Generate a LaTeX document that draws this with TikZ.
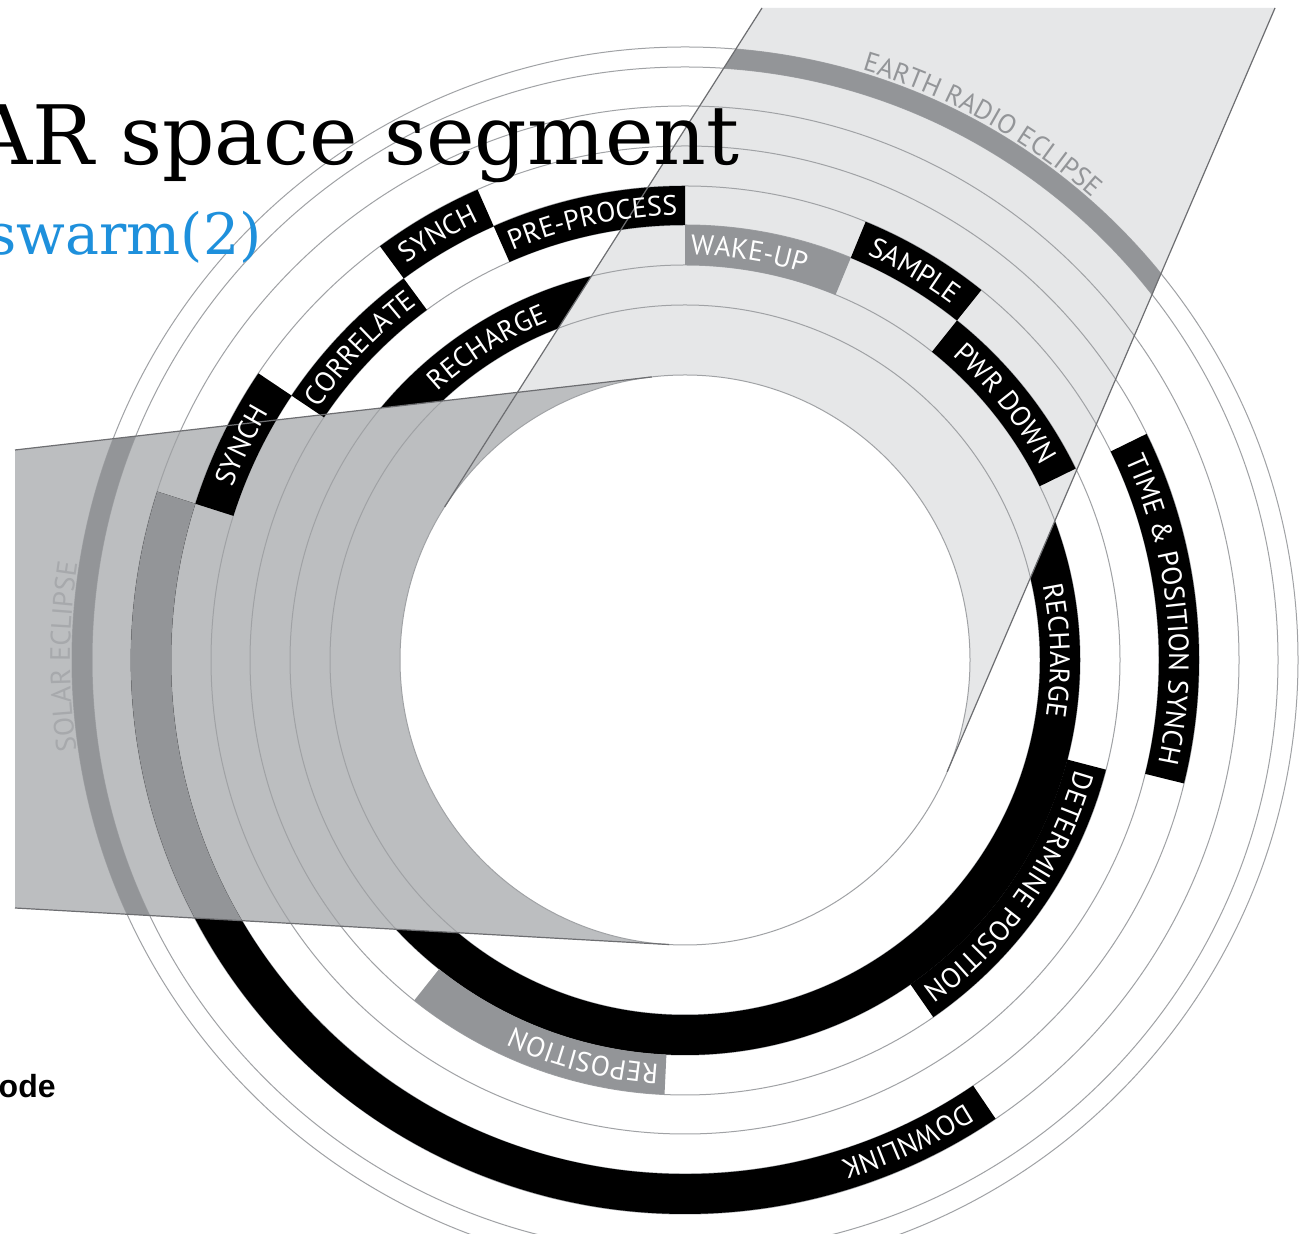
\documentclass[tikz,border=0pt]{standalone}
\usepackage{fontspec}
\usetikzlibrary{decorations.text}
\newfontfamily\titlefont{DejaVu Serif}
\newfontfamily\labelfont{PT Sans}
\newfontfamily\notefont{Liberation Sans}
\definecolor{earthgray}{HTML}{E6E7E8}
\definecolor{solargray}{HTML}{BCBEC0}
\definecolor{phasegray}{HTML}{939598}
\definecolor{labelgray}{HTML}{A7A9AC}
\definecolor{ringline}{HTML}{A0A2A5}
\definecolor{edgeline}{HTML}{6D6E71}
\definecolor{titleblue}{RGB}{30,144,220}
\newcommand{\seglabel}{\labelfont\fontsize{14bp}{14bp}\selectfont\color{white}}
\newcommand{\earthlabel}{\labelfont\fontsize{13.5bp}{13.5bp}\selectfont\color{phasegray}}
\newcommand{\solarlabel}{\labelfont\fontsize{14bp}{14bp}\selectfont\color{labelgray}}
\tikzset{
  orbit/.style={draw=ringline,line width=0.5bp},
  shadowedge/.style={draw=edgeline,line width=0.6bp},
  arclabel/.style={decorate,decoration={text along path,text align=center,text={#1}}},
  arclabelstart/.style={decorate,decoration={text along path,text align=left,text={#1}}},
}
\begin{document}
\begin{tikzpicture}[line join=bevel,]
%%
\fill[white] (0bp,0bp) rectangle (650.5bp,617bp);
\useasboundingbox (0bp,0bp) rectangle (650.5bp,617bp);
\begin{scope}[shift={(342.5bp,287bp)}]
  \coordinate (earth_0) at (38.5bp,326bp);
  \coordinate (earth_1) at (295bp,326bp);
  \coordinate (earth_2) at (-23.1:142.5bp);
  \coordinate (earth_3) at (147.5:142.5bp);
  \coordinate (solar_0) at (-335bp,105bp);
  \coordinate (solar_1) at (96.7:142.5bp);
  \coordinate (solar_2) at (266.8:142.5bp);
  \coordinate (solar_3) at (-335bp,-124bp);
% shadows
  \fill[earthgray] (earth_0) -- (earth_1) -- (earth_2) -- (earth_3) -- cycle;
  \fill[solargray] (solar_0) -- (solar_1) -- (solar_2) -- (solar_3) -- cycle;
  \fill[white] (0bp,0bp) circle (142.5bp);
% orbit tracks
  \draw[orbit] (0bp,0bp) circle (142.5bp);
  \draw[orbit] (0bp,0bp) circle (177.5bp);
  \draw[orbit] (0bp,0bp) circle (197.5bp);
  \draw[orbit] (0bp,0bp) circle (217.5bp);
  \draw[orbit] (0bp,0bp) circle (237bp);
  \draw[orbit] (0bp,0bp) circle (257bp);
  \draw[orbit] (0bp,0bp) circle (277bp);
  \draw[orbit] (0bp,0bp) circle (296.5bp);
  \draw[orbit] (0bp,0bp) circle (306.5bp);
% recharge track, off wherever a shadow falls
  \begin{scope}[even odd rule]
    \clip (-360bp,-300bp) rectangle (320bp,340bp)
      (earth_0) -- (earth_1) -- (earth_2) -- (earth_3) -- cycle
      (solar_0) -- (solar_1) -- (solar_2) -- (solar_3) -- cycle;
    \fill[black] (0bp,0bp) circle (197.5bp) (0bp,0bp) circle (177.5bp);
  \end{scope}
% phases
  \fill[black] (113.8:257bp) arc (113.8:126.4:257bp) -- (126.4:237bp) arc (126.4:113.8:237bp) -- cycle;
  \fill[black] (90:237bp) arc (90:113.8:237bp) -- (113.8:217.5bp) arc (113.8:90:217.5bp) -- cycle;
  \fill[black] (126.4:237bp) arc (126.4:146.1:237bp) -- (146.1:217.5bp) arc (146.1:126.4:217.5bp) -- cycle;
  \fill[black] (146.1:257bp) arc (146.1:162.3:257bp) -- (162.3:237bp) arc (162.3:146.1:237bp) -- cycle;
  \fill[phasegray] (67.6:217.5bp) arc (67.6:90:217.5bp) -- (90:197.5bp) arc (90:67.6:197.5bp) -- cycle;
  \fill[black] (51.3:237bp) arc (51.3:67.6:237bp) -- (67.6:217.5bp) arc (67.6:51.3:217.5bp) -- cycle;
  \fill[black] (26.1:217.5bp) arc (26.1:51.3:217.5bp) -- (51.3:197.5bp) arc (51.3:26.1:197.5bp) -- cycle;
  \fill[black] (-13.9:257bp) arc (-13.9:26.1:257bp) -- (26.1:237bp) arc (26.1:-13.9:237bp) -- cycle;
  \fill[black] (-55.2:217.5bp) arc (-55.2:-14.6:217.5bp) -- (-14.6:197.5bp) arc (-14.6:-55.2:197.5bp) -- cycle;
  \fill[phasegray] (231.5:217.5bp) arc (231.5:267.3:217.5bp) -- (267.3:197.5bp) arc (267.3:231.5:197.5bp) -- cycle;
  \fill[black] (162.3:277bp) arc (162.3:304.1:277bp) -- (304.1:257bp) arc (304.1:162.3:257bp) -- cycle;
% eclipse rings
  \begin{scope}
    \clip (solar_0) -- (solar_1) -- (solar_2) -- (solar_3) -- cycle;
    \fill[phasegray] (162.3:277bp) arc (162.3:304.1:277bp) -- (304.1:257bp) arc (304.1:162.3:257bp) -- cycle;
    \fill[phasegray,even odd rule] (0bp,0bp) circle (306.5bp) (0bp,0bp) circle (296.5bp);
  \end{scope}
  \begin{scope}
    \clip (earth_0) -- (earth_1) -- (earth_2) -- (earth_3) -- cycle;
    \fill[phasegray,even odd rule] (0bp,0bp) circle (306.5bp) (0bp,0bp) circle (296.5bp);
  \end{scope}
  \draw[shadowedge] (earth_0) -- (earth_3);
  \draw[shadowedge] (earth_1) -- (earth_2);
  \draw[shadowedge] (solar_0) -- (solar_1);
  \draw[shadowedge] (solar_3) -- (solar_2);
% labels
  \path[arclabel={|\seglabel|PRE-PROCESS}] (113.8:222.35bp) arc (113.8:90:222.35bp);
  \path[arclabel={|\seglabel|SYNCH}] (126.4:242.1bp) arc (126.4:113.8:242.1bp);
  \path[arclabel={|\seglabel|CORRELATE}] (146.1:222.35bp) arc (146.1:126.4:222.35bp);
  \path[arclabel={|\seglabel|SYNCH}] (162.3:242.1bp) arc (162.3:146.1:242.1bp);
  \path[arclabel={|\seglabel|RECHARGE}] (135:182.6bp) arc (135:109.6:182.6bp);
  \path[arclabelstart={|\seglabel|WAKE-UP}] (89.2:202.6bp) arc (89.2:60:202.6bp);
  \path[arclabel={|\seglabel|SAMPLE}] (67.6:222.35bp) arc (67.6:51.3:222.35bp);
  \path[arclabel={|\seglabel|PWR DOWN}] (51.3:202.6bp) arc (51.3:26.1:202.6bp);
  \path[arclabel={|\seglabel|TIME {\&} POSITION SYNCH}] (26.1:242.1bp) arc (26.1:-13.9:242.1bp);
  \path[arclabel={|\seglabel|RECHARGE}] (20:182.6bp) arc (20:-17:182.6bp);
  \path[arclabel={|\seglabel|DETERMINE POSITION}] (-14.6:202.6bp) arc (-14.6:-55.2:202.6bp);
  \path[arclabelstart={|\seglabel|REPOSITION}] (266.3:202.6bp) arc (266.3:231.5:202.6bp);
  \path[arclabelstart={|\seglabel|DOWNLINK}] (302.3:262.1bp) arc (302.3:250:262.1bp);
  \path[arclabelstart={|\earthlabel|EARTH RADIO ECLIPSE}] (73.3:308bp) arc (73.3:30:308bp);
  \path[arclabel={|\solarlabel|SOLAR ECLIPSE}] (194.7:307.5bp) arc (194.7:164.7:307.5bp);
\end{scope}
%
\node (node_0) at (370bp,534.5bp) [anchor=base east,inner sep=0pt] {\titlefont\fontsize{41bp}{41bp}\selectfont AR space segment};
\node (node_1) at (131bp,489.5bp) [anchor=base east,inner sep=0pt,text=titleblue] {\titlefont\fontsize{28.5bp}{28.5bp}\selectfont swarm(2)};
\node (node_2) at (28bp,68bp) [anchor=base east,inner sep=0pt] {\notefont\bfseries\fontsize{16bp}{16bp}\selectfont ode};
%
\end{tikzpicture}
\end{document}
